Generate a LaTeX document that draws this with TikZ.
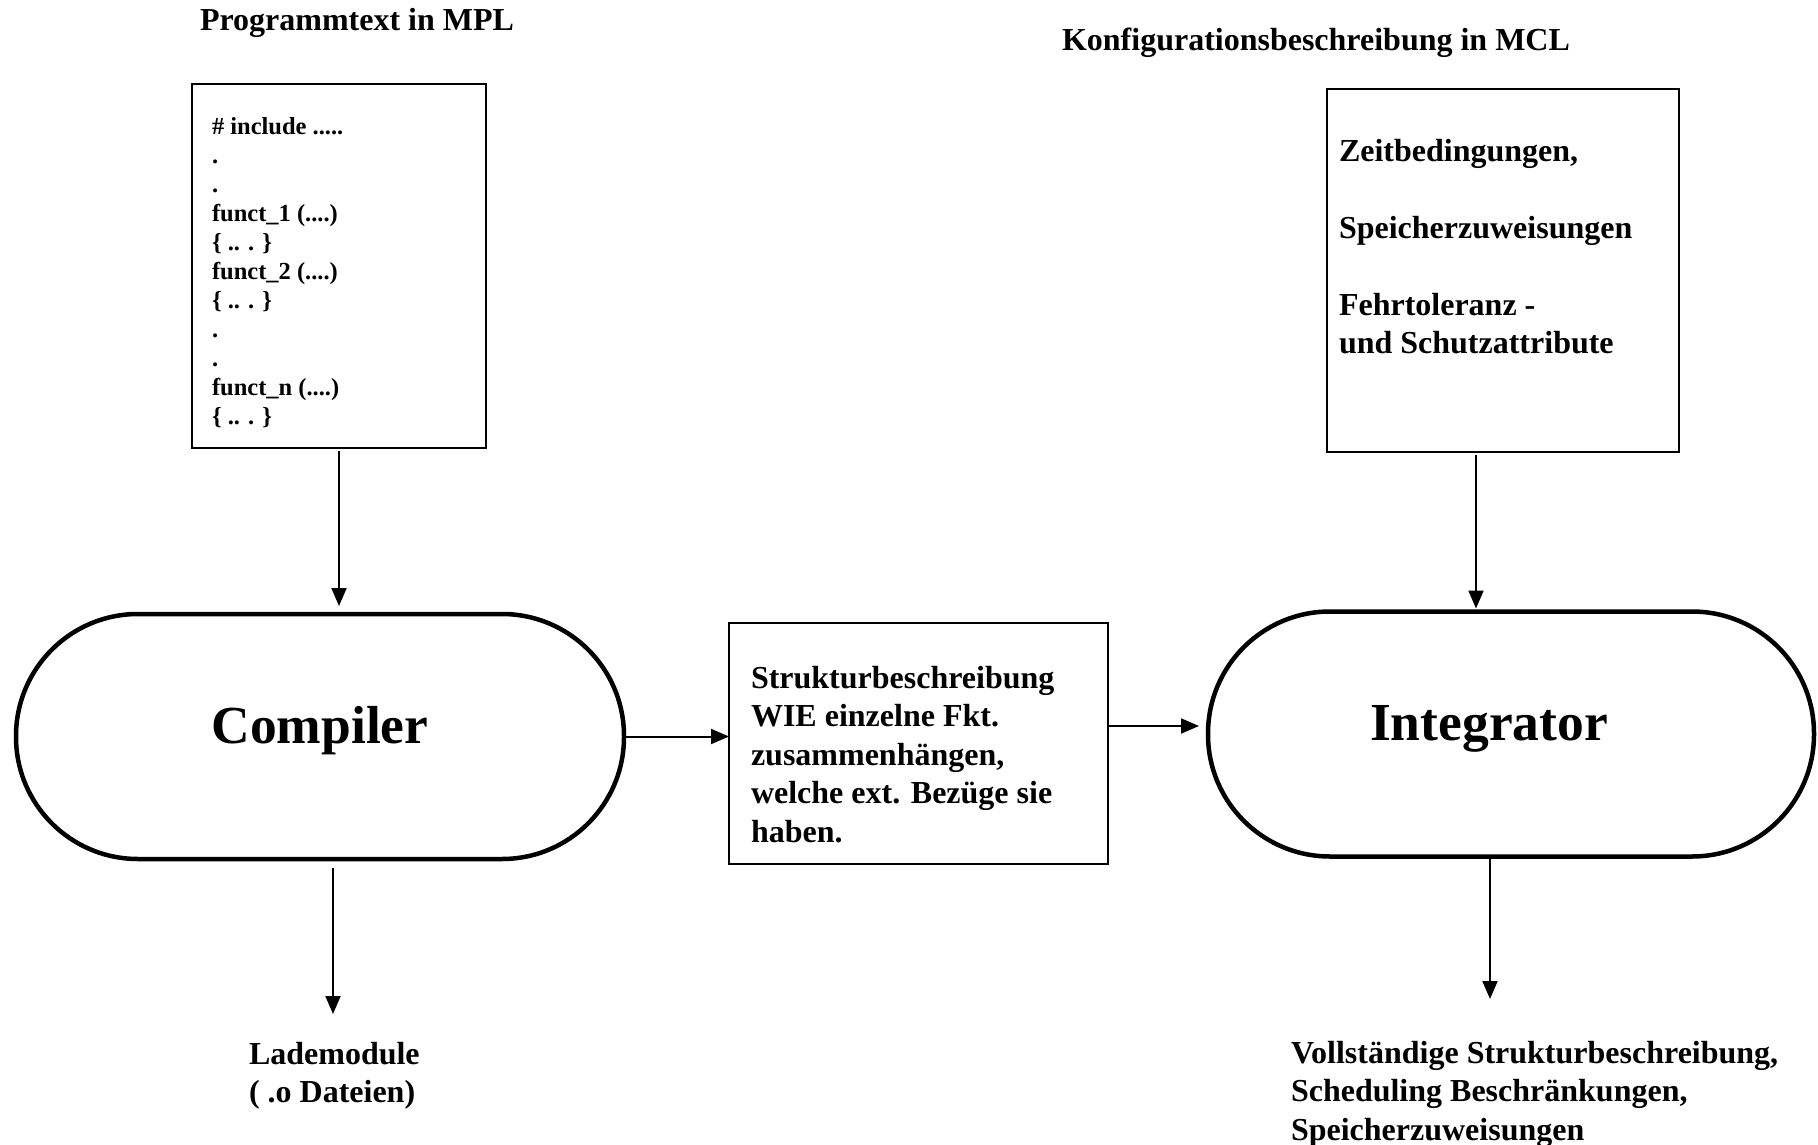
\documentclass[tikz,border=0pt]{standalone}
\usepackage{fontspec}
\setmainfont{Liberation Serif}
\usetikzlibrary{arrows.meta}
\begin{document}
\begin{tikzpicture}[x=1pt,y=-1pt,
  every node/.style={inner sep=0pt, outer sep=0pt, font=\bfseries},
  box/.style={draw, line width=2.4pt, rectangle},
  stadium/.style={draw, line width=4.5pt, rounded corners=122pt,
    minimum width=608pt, minimum height=245pt,
    font=\fontsize{53.5}{60}\selectfont\bfseries, text height=30pt, text depth=17pt},
  flow/.style={-{Triangle[length=18pt,width=15pt]}, line width=2pt},
  title/.style={anchor=base west, font=\fontsize{32}{38.5}\selectfont\bfseries},
  body/.style={anchor=north west, align=left, font=\fontsize{32}{38.5}\selectfont\bfseries},
  code/.style={anchor=north west, align=left, font=\fontsize{24.5}{29}\selectfont\bfseries}]

\useasboundingbox (0,0) rectangle (1818,1145);

% headings above the two input boxes
\node[title] (mpltitle) at (200,31) {Programmtext in MPL};
\node[title] (mcltitle) at (1062,51) {Konfigurationsbeschreibung in MCL};

% program text box
\node[box, minimum width=294pt, minimum height=364pt] (code) at (339,266) {};
\node[code] (codetext) at (212,117) {\# include .....\\.\\.\\funct\_1 (....)\\\{ .. . \}\\funct\_2 (....)\\\{ .. . \}\\.\\.\\funct\_n (....)\\\{ .. . \}};

% configuration box
\node[box, minimum width=352pt, minimum height=363pt] (conf) at (1503,270.5) {};
\node[body] (conftext) at (1339,139) {Zeitbedingungen,\\[38.5pt]Speicherzuweisungen\\[38.5pt]Fehrtoleranz -\\und Schutzattribute};

% processing stages
\node[stadium] (comp) at (320,736.5) {Compiler};
\node[stadium, minimum width=606pt] (integ) at (1511,734) {Integrator\hspace*{44pt}};

% intermediate structure description
\node[box, minimum width=379pt, minimum height=241pt] (struk) at (918.5,743.5) {};
\node[body] (struktext) at (751,666) {Strukturbeschreibung\\WIE einzelne Fkt.\\zusammenhängen,\\welche ext. Bezüge sie\\haben.};

% outputs
\node[body] (lade) at (249,1042) {Lademodule\\( .o Dateien)};
\node[body] (result) at (1291,1041) {Vollständige Strukturbeschreibung,\\Scheduling Beschränkungen,\\Speicherzuweisungen};
\coordinate (intout) at (1490,999);
\coordinate (compout) at (333,1014);

% connectors
\draw[flow, shorten <=3pt, shorten >=8pt] (code.south) -- (code.south |- comp.north);
\draw[flow, shorten <=3pt, shorten >=3pt] ([xshift=-27pt]conf.south) -- ([xshift=-27pt]conf.south |- integ.north);
\draw[flow] (comp.east) -- (comp.east -| struk.west);
\draw[flow, shorten >=9pt] ([yshift=17.5pt]struk.east) -- ([yshift=17.5pt]struk.east -| integ.west);
\draw[flow, shorten <=9pt] (compout |- comp.south) -- (compout);
\draw[flow, shorten <=2pt] (intout |- integ.south) -- (intout);
\end{tikzpicture}
\end{document}
